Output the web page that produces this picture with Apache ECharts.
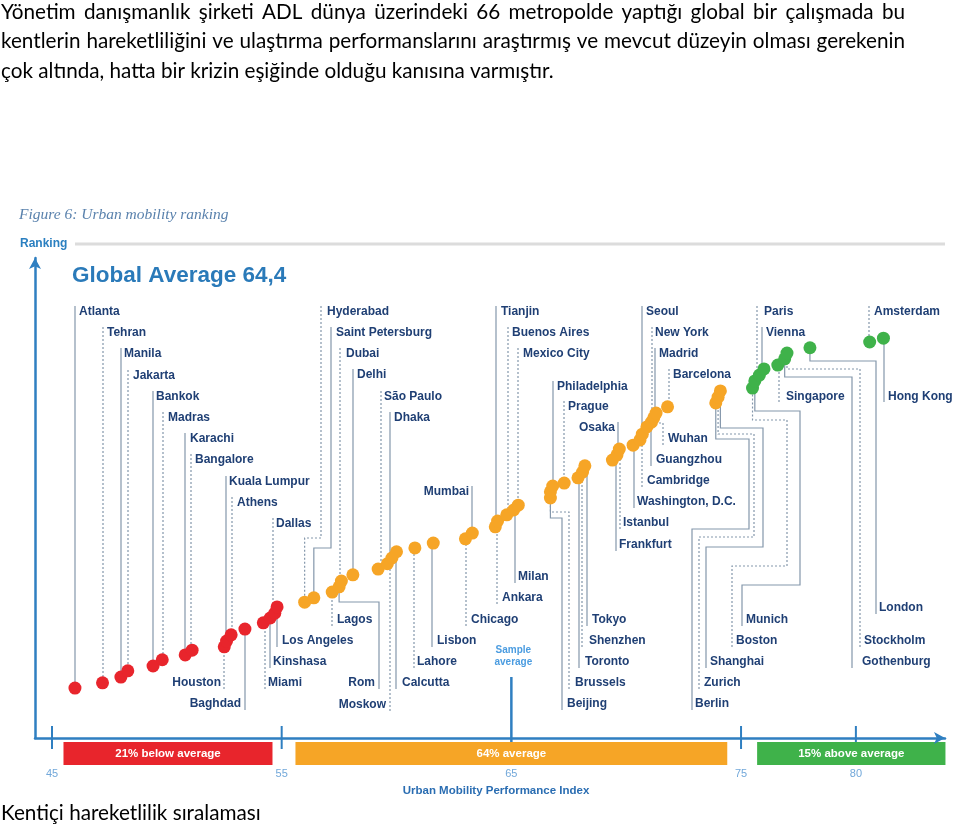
<!DOCTYPE html>
<html><head><meta charset="utf-8">
<script src="https://cdn.jsdelivr.net/npm/echarts@6/dist/echarts.min.js"></script>
<style>html,body{margin:0;padding:0;background:#fff}#c{width:960px;height:826px}</style>
</head><body><div id="c"></div>
<script>
// ---------- DATA ----------
const cities = ["Atlanta","Tehran","Manila","Jakarta","Bankok","Madras","Karachi","Bangalore","Houston","Kuala Lumpur","Athens","Baghdad","Miami","Kinshasa","Los Angeles","Dallas","Hyderabad","Saint Petersburg","Lagos","Rom","Dubai","Delhi","São Paulo","Moskow","Dhaka","Calcutta","Lahore","Lisbon","Chicago","Mumbai","Ankara","Tianjin","Buenos Aires","Milan","Mexico City","Beijing","Brussels","Philadelphia","Prague","Toronto","Shenzhen","Tokyo","Frankfurt","Istanbul","Osaka","Washington, D.C.","Cambridge","Seoul","Guangzhou","Wuhan","New York","Madrid","Barcelona","Berlin","Zurich","Shanghai","Boston","Munich","Paris","Vienna","Singapore","Gothenburg","Stockholm","London","Amsterdam","Hong Kong"];
const indexValues = [46.0,47.2,48.0,48.3,49.4,49.8,50.8,51.1,52.5,52.6,52.8,53.4,54.2,54.5,54.7,54.8,
  56.0,56.4,57.2,57.5,57.6,58.1,59.2,59.6,59.8,60.0,60.8,61.6,63.0,63.3,64.3,64.4,64.8,65.1,65.3,66.7,
  66.7,66.8,67.3,67.9,68.1,68.2,69.4,69.6,69.7,70.3,70.6,70.7,70.9,71.1,71.2,71.3,71.8,73.9,74.0,74.1,
  75.5,75.6,75.8,76.0,76.6,76.9,77.0,78.0,80.6,81.2];
const rankLevels = [10.4,11.5,12.7,14.0,15.0,16.3,17.3,18.3,19.0,20.2,21.5,22.7,24.0,25.0,26.0,27.3,
  28.3,29.2,30.4,31.5,32.7,34.0,35.2,36.3,37.5,38.8,39.6,40.6,41.5,42.7,44.0,45.2,46.5,47.5,48.5,50.0,
  51.3,52.5,53.1,54.2,55.4,56.7,57.9,59.0,60.2,61.0,62.1,63.3,64.8,65.8,66.7,67.7,69.0,69.8,71.0,72.3,
  72.9,74.4,75.6,76.9,77.7,79.0,80.2,81.3,82.5,83.3];
const xTickLabels = [45,55,65,75,80];
const xTickMarks = [45,55,75,80];
const groupThresholds = [55,75];
const bandLabels = ["21% below average","64% average","15% above average"];
const bandRanges = [[45.5,54.6],[55.6,74.4],[75.7,83.9]];
const sampleAverage = 65;
const globalAverageText = "Global Average 64,4";
const introLines = [
  "Yönetim danışmanlık şirketi ADL dünya üzerindeki 66 metropolde yaptığı global bir çalışmada bu",
  "kentlerin hareketliliğini ve ulaştırma performanslarını araştırmış ve mevcut düzeyin olması gerekenin",
  "çok altında, hatta bir krizin eşiğinde olduğu kanısına varmıştır."
];
const captionText = "Kentiçi hareketlilik sıralaması";

// ---------- LAYOUT (annotation leaders: name, textX, textY, align, dashed, elbow, path) ----------
const leaderLayout = [
 ['Atlanta',79,312,'l',0,0,[[75,306]]],
 ['Tehran',107,333,'l',1,0,[[103,327]]],
 ['Manila',124,354,'l',0,0,[[121,348]]],
 ['Jakarta',133,376,'l',1,0,[[128,370]]],
 ['Bankok',156,397,'l',0,0,[[153,391]]],
 ['Madras',168,418,'l',1,0,[[163,412]]],
 ['Karachi',190,439,'l',0,0,[[185,433]]],
 ['Bangalore',195,460,'l',1,0,[[191,454]]],
 ['Kuala Lumpur',229,482,'l',0,0,[[226,476]]],
 ['Athens',237,503,'l',1,0,[[232,497]]],
 ['Dallas',276,524,'l',1,0,[[273,518]]],
 ['Houston',221,683,'r',1,0,[[224,689]]],
 ['Baghdad',241,704,'r',0,0,[[245,710]]],
 ['Miami',268,683,'l',1,0,[[265,689]]],
 ['Kinshasa',273,662,'l',0,0,[[270,668]]],
 ['Los Angeles',282,641,'l',0,0,[[277,647]]],
 ['Hyderabad',327,312,'l',1,1,[[321,306],[321,538]]],
 ['Saint Petersburg',336,333,'l',0,1,[[331,327],[331,548]]],
 ['Dubai',346,354,'l',1,0,[[340,348]]],
 ['Delhi',357,375,'l',0,0,[[353,369]]],
 ['São Paulo',384,397,'l',1,0,[[381,391]]],
 ['Dhaka',394,418,'l',0,0,[[390,412]]],
 ['Lagos',337,620,'l',1,0,[[332,626]]],
 ['Rom',375,683,'r',0,1,[[379,689],[379,602]]],
 ['Moskow',386,705,'r',1,0,[[390,711]]],
 ['Calcutta',402,683,'l',0,0,[[396,689]]],
 ['Lahore',417,662,'l',1,0,[[414,668]]],
 ['Lisbon',437,641,'l',0,0,[[432,647]]],
 ['Chicago',471,620,'l',1,0,[[466,626]]],
 ['Mumbai',469,492,'r',0,0,[[472,486]]],
 ['Ankara',502,598,'l',1,0,[[497,604]]],
 ['Milan',518,577,'l',0,0,[[515,583]]],
 ['Tianjin',501,312,'l',0,0,[[496,306]]],
 ['Buenos Aires',512,333,'l',1,0,[[508,327]]],
 ['Mexico City',523,354,'l',1,0,[[518,348]]],
 ['Philadelphia',557,387,'l',0,0,[[553,381]]],
 ['Prague',568,407,'l',1,0,[[564,401]]],
 ['Osaka',615,428,'r',0,0,[[618,422]]],
 ['Beijing',567,704,'l',0,1,[[562,710],[562,518]]],
 ['Brussels',575,683,'l',1,1,[[569,689],[569,512]]],
 ['Toronto',585,662,'l',0,0,[[579,668]]],
 ['Shenzhen',589,641,'l',1,0,[[582,647]]],
 ['Tokyo',592,620,'l',0,0,[[587,626]]],
 ['Frankfurt',619,545,'l',0,0,[[616,551]]],
 ['Istanbul',623,523,'l',1,0,[[620,529]]],
 ['Washington, D.C.',637,502,'l',0,0,[[634,508]]],
 ['Cambridge',647,481,'l',1,0,[[642,487]]],
 ['Guangzhou',656,460,'l',0,0,[[651,466]]],
 ['Wuhan',668,439,'l',1,1,[[663,445],[663,423]]],
 ['Seoul',646,312,'l',0,0,[[642,306]]],
 ['New York',655,333,'l',1,0,[[652,327]]],
 ['Madrid',659,354,'l',0,0,[[655,348]]],
 ['Barcelona',673,375,'l',1,0,[[669,369]]],
 ['Berlin',695,704,'l',0,1,[[692,710],[692,529],[749,529],[749,439]]],
 ['Zurich',704,683,'l',1,1,[[699,689],[699,537],[754,537],[754,434]]],
 ['Shanghai',710,662,'l',0,1,[[706,668],[706,547],[763,547],[763,428]]],
 ['Boston',736,641,'l',1,1,[[732,647],[732,566],[787,566],[787,420]]],
 ['Munich',746,620,'l',0,1,[[742,626],[742,585],[800,585],[800,411]]],
 ['Paris',764,312,'l',1,0,[[757,306]]],
 ['Vienna',766,333,'l',0,0,[[762,327]]],
 ['Singapore',786,397,'l',1,0,[[779,402]]],
 ['Gothenburg',862,662,'l',0,1,[[852,668],[852,377]]],
 ['Stockholm',864,641,'l',1,1,[[860,647],[860,369]]],
 ['London',879,608,'l',0,1,[[876,614],[876,361]]],
 ['Amsterdam',874,312,'l',1,0,[[869,306]]],
 ['Hong Kong',888,397,'l',0,0,[[884,402]]]
];

const BLUE = '#2f7fc1';
const groupColors = ['#e8252c','#f6a526','#3fb24a'];
const bandColors = ['#e8252c','#f6a526','#3fb24a'];

function groupOf(v){ return v < groupThresholds[0] ? 0 : (v < groupThresholds[1] ? 1 : 2); }
const seriesData = [[],[],[]];
cities.forEach((c,i)=>{ seriesData[groupOf(indexValues[i])].push([indexValues[i], rankLevels[i], c]); });

const chart = echarts.init(document.getElementById('c'), null, {renderer:'canvas'});
chart.setOption({
  animation:false,
  grid:{left:35, right:15, top:258, bottom:88, containLabel:false},
  xAxis:{type:'value', min:44.26, max:83.88,
    axisLine:{show:true, symbol:['none','arrow'], symbolSize:[9,11], lineStyle:{color:BLUE, width:2.5}},
    axisTick:{show:false}, splitLine:{show:false},
    axisLabel:{customValues:xTickLabels, margin:30, color:'#72a8da', fontSize:11, fontFamily:'Liberation Sans Narrow, Liberation Sans'}},
  yAxis:{type:'value', min:0, max:100,
    axisLine:{show:true, symbol:['none','arrow'], symbolSize:[9,11], lineStyle:{color:BLUE, width:2.5}},
    axisTick:{show:false}, axisLabel:{show:false}, splitLine:{show:false}},
  series: seriesData.map((d,k)=>({type:'scatter', data:d, symbolSize:13, z:5,
    itemStyle:{color:groupColors[k], opacity:1}}))
});

// ---------- annotations through the scales ----------
const g = [];
const toPx = (x,y)=>chart.convertToPixel({gridIndex:0},[x,y]);
const xPx = v => chart.convertToPixel({xAxisIndex:0}, v);
const axisY = toPx(50,0)[1];

xTickMarks.forEach(v=>{ const x=xPx(v); g.push({type:'line', shape:{x1:x,y1:axisY-12,x2:x,y2:axisY+11}, style:{stroke:BLUE,lineWidth:2}, silent:true}); });
const sx = xPx(sampleAverage);
g.push({type:'line', shape:{x1:sx,y1:677,x2:sx,y2:axisY+7}, style:{stroke:BLUE,lineWidth:2.5}, silent:true});
g.push({type:'text', x:sx+2, y:650, style:{text:'Sample', fill:'#4b9ce0', font:'bold 10px "Liberation Sans"', align:'center', verticalAlign:'middle'}});
g.push({type:'text', x:sx+2, y:662, style:{text:'average', fill:'#4b9ce0', font:'bold 10px "Liberation Sans"', align:'center', verticalAlign:'middle'}});

bandRanges.forEach((r,k)=>{
  const x1=xPx(r[0]), x2=xPx(r[1]);
  g.push({type:'rect', shape:{x:x1,y:axisY+4,width:x2-x1,height:23}, style:{fill:bandColors[k]}, silent:true});
  g.push({type:'text', x:(x1+x2)/2, y:axisY+16, style:{text:bandLabels[k], fill:'#fff', font:'bold 11.5px "Liberation Sans"', align:'center', verticalAlign:'middle'}});
});
g.push({type:'text', x:496, y:791, style:{text:'Urban Mobility Performance Index', fill:'#2a6db2', font:'bold 11.5px "Liberation Sans"', align:'center', verticalAlign:'middle'}});

leaderLayout.forEach(([name,tx,ty,al,dash,elbow,path])=>{
  const i = cities.indexOf(name);
  const [dx,dy] = toPx(indexValues[i], rankLevels[i]);
  const pts = path.map(p=>p.slice());
  const last = pts[pts.length-1];
  if (elbow){ pts.push([dx,last[1]]); pts.push([dx,dy]); } else { pts.push([last[0],dy]); }
  g.push({type:'polyline', shape:{points:pts}, style:{stroke:'#8497ab', lineWidth:1.2, lineDash: dash?[2,2]:null, fill:null}, silent:true, z:1});
  g.push({type:'text', x:tx, y:ty, style:{text:name, fill:'#1f3f74', font:'bold 12px "Liberation Sans"', align: al==='r'?'right':'left', verticalAlign:'middle'}, z:3});
});

g.push({type:'text', x:19, y:215, style:{text:'Figure 6: Urban mobility ranking', fill:'#5a82ad', font:'italic 15.5px "Liberation Serif"', verticalAlign:'middle'}});
g.push({type:'text', x:20, y:244, style:{text:'Ranking', fill:'#2a7fc0', font:'bold 12px "Liberation Sans"', verticalAlign:'middle'}});
g.push({type:'line', shape:{x1:75,y1:244,x2:945,y2:244}, style:{stroke:'#dcdcdc', lineWidth:3}, silent:true});
g.push({type:'text', x:72, y:276, style:{text:globalAverageText, fill:'#2a7ab9', font:'bold 22.5px "Liberation Sans"', verticalAlign:'middle'}});

const ctx = document.createElement('canvas').getContext('2d');
ctx.font = '100px Lato';
const fs = Math.round(100*553/ctx.measureText(introLines[2]).width*10)/10;
const font = fs+'px Lato';
ctx.font = font;
const lineYs = [12,41,71];
introLines.forEach((ln,k)=>{
  const words = ln.split(' ');
  const ws = words.map(w=>ctx.measureText(w).width);
  const tot = ws.reduce((a,b)=>a+b,0);
  const gap = k<2 ? (905-1-tot)/(words.length-1) : ctx.measureText(' ').width;
  let x = 1;
  words.forEach((w,j)=>{ g.push({type:'text', x:x, y:lineYs[k], style:{text:w, fill:'#000', font:font, verticalAlign:'middle'}}); x += ws[j]+gap; });
});
g.push({type:'text', x:1, y:813, style:{text:captionText, fill:'#000', font:font, verticalAlign:'middle'}});

chart.setOption({graphic:{elements:g}});
</script>
</body></html>
